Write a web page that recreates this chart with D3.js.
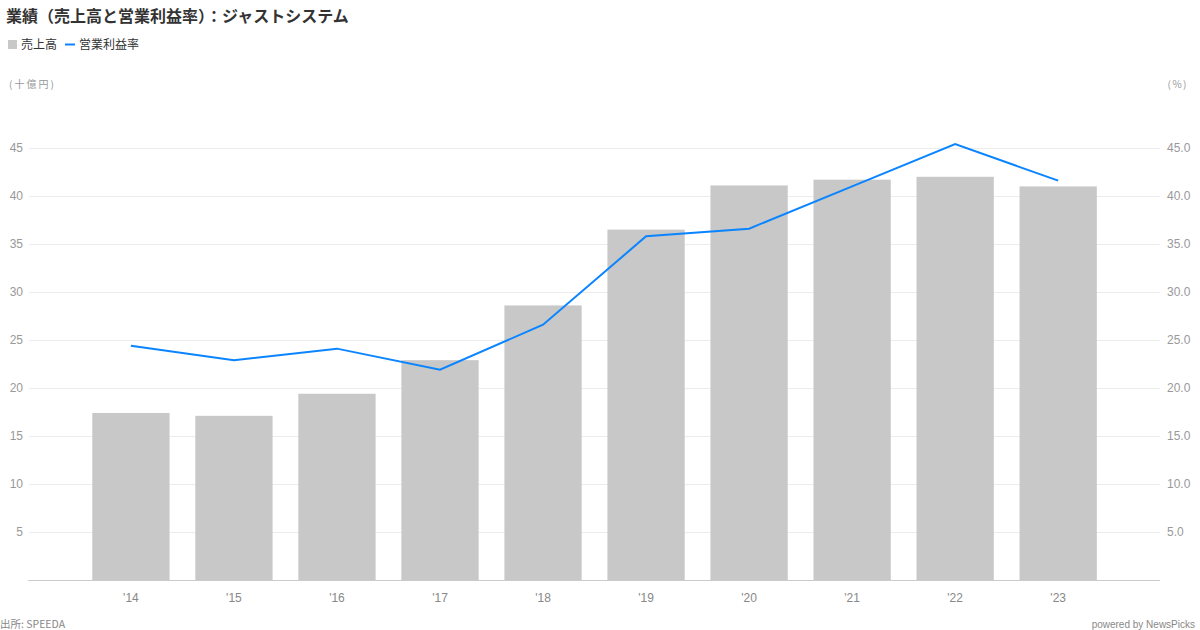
<!DOCTYPE html>
<html>
<head>
<meta charset="utf-8">
<script src="https://cdn.jsdelivr.net/npm/d3@7"></script>
<style>
  html, body { margin: 0; padding: 0; background: #fff; }
  svg { display: block; font-family: "Liberation Sans", Arial, "Noto Sans CJK JP", sans-serif; }
  .jp { font-family: "Noto Sans CJK JP", "Liberation Sans", sans-serif; }
</style>
</head>
<body>
<svg id="chart" width="1200" height="630"></svg>
<script>
const categories = ["'14", "'15", "'16", "'17", "'18", "'19", "'20", "'21", "'22", "'23"];
const sales = [17.4, 17.1, 19.4, 22.9, 28.6, 36.5, 41.1, 41.7, 42.0, 41.0];
const margin = [24.4, 22.9, 24.1, 21.9, 26.6, 35.8, 36.6, 41.0, 45.4, 41.6];
const leftTicks = [5, 10, 15, 20, 25, 30, 35, 40, 45];
const rightTicks = [5, 10, 15, 20, 25, 30, 35, 40, 45];

const svg = d3.select("#chart");
const plotL = 28, plotR = 1160, plotB = 580, plotT = 100;

const x = d3.scaleBand().domain(categories).range([79.4, 1109.7]).paddingInner(0.25).paddingOuter(0.125);
const yL = d3.scaleLinear().domain([0, 50]).range([plotB, plotT]);
const yR = d3.scaleLinear().domain([0, 50]).range([plotB, plotT]);

// Gridlines
svg.append("g").selectAll("line").data(leftTicks).join("line")
  .attr("x1", plotL + 1).attr("x2", plotR)
  .attr("y1", d => Math.round(yL(d)) + 0.5).attr("y2", d => Math.round(yL(d)) + 0.5)
  .attr("stroke", "#ececec").attr("stroke-width", 1);

// Left axis labels
svg.append("g").selectAll("text").data(leftTicks).join("text")
  .attr("x", 23).attr("y", d => yL(d)).attr("dy", "0.35em")
  .attr("text-anchor", "end").attr("font-size", 12).attr("fill", "#999")
  .text(d => d);

// Right axis labels
svg.append("g").selectAll("text").data(rightTicks).join("text")
  .attr("x", 1167).attr("y", d => yR(d)).attr("dy", "0.35em")
  .attr("text-anchor", "start").attr("font-size", 12).attr("fill", "#999")
  .text(d => d3.format(".1f")(d));

// Bars
svg.append("g").selectAll("rect").data(categories).join("rect")
  .attr("x", d => x(d)).attr("width", x.bandwidth())
  .attr("y", (d, i) => yL(sales[i])).attr("height", (d, i) => plotB - yL(sales[i]))
  .attr("fill", "#c8c8c8");

// Baseline axis
svg.append("line").attr("x1", plotL).attr("x2", plotR)
  .attr("y1", plotB + 0.5).attr("y2", plotB + 0.5)
  .attr("stroke", "#cccccc").attr("stroke-width", 1);

// X labels
svg.append("g").selectAll("text").data(categories).join("text")
  .attr("x", d => x(d) + x.bandwidth() / 2).attr("y", 598).attr("dy", "0.35em")
  .attr("text-anchor", "middle").attr("font-size", 12).attr("fill", "#888")
  .text(d => d);

// Line
const line = d3.line()
  .x((d, i) => x(categories[i]) + x.bandwidth() / 2)
  .y(d => yR(d));
svg.append("path").datum(margin)
  .attr("d", line).attr("fill", "none")
  .attr("stroke", "#0a84ff").attr("stroke-width", 2);

// Title
svg.append("text").attr("class", "jp").attr("x", 6).attr("y", 22)
  .attr("font-size", 16).attr("font-weight", "bold").attr("fill", "#333")
  .text("業績（売上高と営業利益率）：ジャストシステム");

// Legend
svg.append("rect").attr("x", 8).attr("y", 40).attr("width", 9).attr("height", 9).attr("fill", "#c8c8c8");
svg.append("text").attr("class", "jp").attr("x", 21).attr("y", 45).attr("dy", "0.35em")
  .attr("font-size", 12).attr("fill", "#333").text("売上高");
svg.append("line").attr("x1", 65).attr("x2", 75).attr("y1", 44.5).attr("y2", 44.5)
  .attr("stroke", "#0a84ff").attr("stroke-width", 2);
svg.append("text").attr("class", "jp").attr("x", 79).attr("y", 45).attr("dy", "0.35em")
  .attr("font-size", 12).attr("fill", "#333").text("営業利益率");

// Unit labels
svg.append("text").attr("class", "jp").attr("x", 9).attr("y", 84).attr("dy", "0.35em")
  .attr("font-size", 10).attr("fill", "#999").attr("letter-spacing", "2px").text("(十億円)");
svg.append("text").attr("class", "jp").attr("x", 1188).attr("y", 84).attr("dy", "0.35em")
  .attr("text-anchor", "end")
  .attr("font-size", 10).attr("fill", "#999").attr("letter-spacing", "1.5px").text("(%)");

// Footer
svg.append("text").attr("class", "jp").attr("x", 0).attr("y", 624).attr("dy", "0.35em")
  .attr("font-size", 10.5).attr("fill", "#888").text("出所: SPEEDA");
svg.append("text").attr("x", 1195).attr("y", 624).attr("dy", "0.35em")
  .attr("text-anchor", "end")
  .attr("font-size", 10).attr("fill", "#888").text("powered by NewsPicks");
</script>
</body>
</html>
